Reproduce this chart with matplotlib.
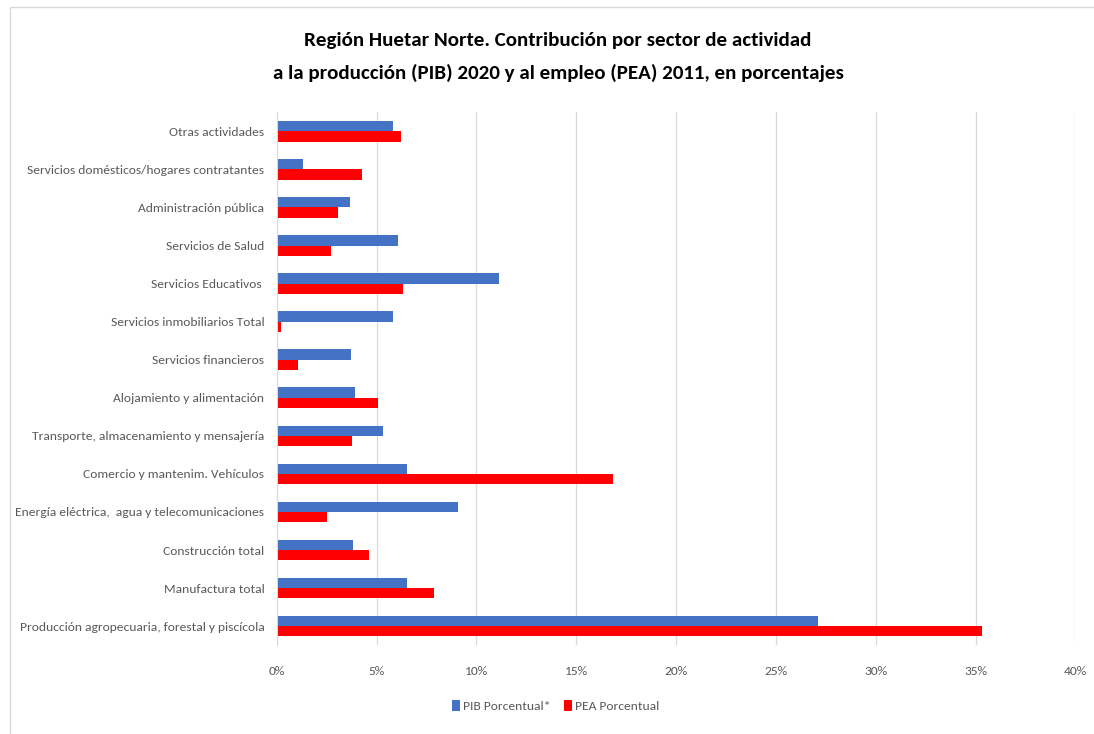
import numpy as np
import matplotlib.pyplot as plt
from matplotlib.ticker import PercentFormatter

plt.rcParams['font.family'] = ['Carlito', 'Liberation Sans', 'DejaVu Sans']

# categories, bottom to top
sectores = [
    'Producción agropecuaria, forestal y piscícola',
    'Manufactura total',
    'Construcción total',
    'Energía eléctrica,  agua y telecomunicaciones',
    'Comercio y mantenim. Vehículos',
    'Transporte, almacenamiento y mensajería',
    'Alojamiento y alimentación',
    'Servicios financieros',
    'Servicios inmobiliarios Total',
    'Servicios Educativos ',
    'Servicios de Salud',
    'Administración pública',
    'Servicios domésticos/hogares contratantes',
    'Otras actividades',
]
pib = [27.1, 6.5, 3.8, 9.1, 6.5, 5.3, 3.9, 3.7, 5.8, 11.15, 6.05, 3.65, 1.3, 5.8]
pea = [35.3, 7.85, 4.6, 2.5, 16.85, 3.75, 5.05, 1.05, 0.2, 6.3, 2.7, 3.05, 4.25, 6.2]

fig = plt.figure(figsize=(10.94, 7.34), dpi=100)
ax = fig.add_axes([0.253, 0.121, 0.730, 0.726])

y = np.arange(len(sectores))
h = 0.27
ax.barh(y + h / 2, pib, height=h, color='#4472C4', label='PIB Porcentual*')
ax.barh(y - h / 2, pea, height=h, color='#FF0000', label='PEA Porcentual')

ax.set_xlim(0, 40)
ax.set_ylim(-0.5, len(sectores) - 0.5)
ax.set_xticks(np.arange(0, 41, 5))
ax.xaxis.set_major_formatter(PercentFormatter(decimals=0))
ax.set_yticks(y)
ax.set_yticklabels(sectores)
ax.tick_params(axis='both', length=0, labelsize=9.7, colors='#595959')
ax.tick_params(axis='y', pad=9)
ax.tick_params(axis='x', pad=15)
ax.grid(axis='x', color='#D9D9D9', linewidth=0.9)
ax.set_axisbelow(True)
for s in ['top', 'right', 'bottom']:
    ax.spines[s].set_visible(False)
ax.spines['left'].set_color('#D9D9D9')

fig.text(0.51, 0.945, 'Región Huetar Norte. Contribución por sector de actividad',
         ha='center', va='center', fontsize=15.1, fontweight='bold')
fig.text(0.51, 0.900, 'a la producción (PIB) 2020 y al empleo (PEA) 2011, en porcentajes',
         ha='center', va='center', fontsize=15.1, fontweight='bold')

fig.legend(loc='center', bbox_to_anchor=(0.508, 0.038), ncol=2, frameon=False,
           fontsize=9.7, handlelength=0.6, handleheight=0.9, handletextpad=0.2,
           columnspacing=1.0, labelcolor='#595959')

# thin chart border
fig.patches.append(plt.Rectangle((0.009, -0.01), 1.0, 1.0, transform=fig.transFigure,
                                 fill=False, edgecolor='#D9D9D9', linewidth=1))

fig.savefig('out.png', dpi=100)
